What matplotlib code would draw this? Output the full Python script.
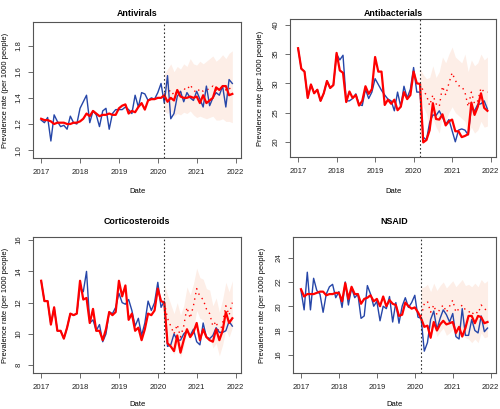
import matplotlib
matplotlib.use("Agg")
import matplotlib.pyplot as plt
import numpy as np

plt.rcParams['font.family'] = ['Liberation Sans', 'DejaVu Sans']

# monthly time axis, Jan 2017 - Dec 2021 (decimal years)
months = 2017 + np.arange(60) / 12.0
cf_months = months[38:]  # counterfactual from Mar 2020
break_date = 2020 + 2 / 12.0

# ---- Antivirals ----
av_obs = [1.23, 1.21, 1.25, 1.07, 1.27, 1.22, 1.18, 1.19, 1.16, 1.26, 1.21, 1.20,
          1.32, 1.37, 1.42, 1.21, 1.30, 1.27, 1.18, 1.30, 1.32, 1.16, 1.28, 1.31,
          1.31, 1.31, 1.33, 1.31, 1.28, 1.42, 1.33, 1.44, 1.43, 1.38, 1.40, 1.39,
          1.44, 1.51, 1.36, 1.57, 1.24, 1.28, 1.41, 1.45, 1.37, 1.44, 1.40, 1.38,
          1.45, 1.39, 1.33, 1.49, 1.34, 1.40, 1.44, 1.42, 1.49, 1.33, 1.54, 1.51]
av_fit = [1.24, 1.23, 1.23, 1.22, 1.20, 1.21, 1.21, 1.21, 1.20, 1.20, 1.21, 1.21,
          1.22, 1.24, 1.28, 1.26, 1.30, 1.28, 1.26, 1.27, 1.27, 1.28, 1.27, 1.27,
          1.32, 1.34, 1.35, 1.28, 1.30, 1.29, 1.33, 1.36, 1.31, 1.38, 1.39, 1.39,
          1.40, 1.40, 1.42, 1.37, 1.40, 1.38, 1.46, 1.41, 1.40, 1.40, 1.41, 1.40,
          1.41, 1.36, 1.42, 1.36, 1.38, 1.40, 1.48, 1.46, 1.49, 1.49, 1.42, 1.43]
av_cf = [1.43, 1.44, 1.46, 1.42, 1.45, 1.44, 1.47, 1.46, 1.50, 1.46, 1.44,
         1.47, 1.45, 1.46, 1.47, 1.49, 1.46, 1.47, 1.48, 1.46, 1.48, 1.44]
av_hi = [1.58, 1.62, 1.66, 1.60, 1.64, 1.62, 1.66, 1.64, 1.70, 1.66, 1.65,
         1.68, 1.66, 1.68, 1.70, 1.72, 1.68, 1.70, 1.73, 1.70, 1.74, 1.76]
av_lo = [1.30, 1.28, 1.30, 1.26, 1.28, 1.27, 1.29, 1.28, 1.30, 1.27, 1.25,
         1.26, 1.25, 1.24, 1.25, 1.26, 1.23, 1.23, 1.24, 1.22, 1.22, 1.21]

# ---- Antibacterials ----
ab_fit = [36.0, 32.5, 32.0, 27.5, 29.8, 28.3, 28.9, 27.0, 28.3, 30.4, 29.2, 29.7,
          35.2, 32.2, 31.8, 26.8, 28.6, 27.5, 28.0, 26.2, 27.0, 29.5, 28.2, 29.0,
          34.5, 32.0, 32.0, 26.3, 27.2, 26.5, 27.2, 25.4, 26.0, 28.5, 27.3, 28.0,
          32.0, 30.0, 29.9, 19.9, 20.3, 22.0, 26.6, 23.9, 23.8, 24.7, 22.8, 23.5,
          23.8, 21.8, 21.8, 20.8, 21.0, 21.3, 26.7, 24.6, 26.0, 28.3, 25.8, 25.3]
ab_obs = [36.0, 32.5, 32.0, 27.5, 29.8, 28.3, 28.9, 27.0, 28.3, 30.4, 29.2, 29.7,
          35.0, 34.0, 34.8, 27.0, 27.0, 27.4, 28.2, 26.4, 26.2, 29.0, 27.4, 28.5,
          30.8, 29.8, 28.8, 28.0, 27.3, 27.0, 25.3, 28.5, 26.0, 29.5, 27.5, 29.0,
          32.7, 28.5, 28.5, 20.8, 20.3, 23.3, 24.6, 24.5, 25.3, 24.2, 23.0, 23.8,
          21.9, 20.0, 22.0, 22.2, 22.0, 21.2, 25.8, 25.3, 26.4, 26.5, 27.0, 25.6]
ab_cf = [30.0, 28.7, 28.0, 26.2, 28.0, 26.5, 26.0, 29.5, 28.0, 30.0, 31.8,
         30.5, 29.6, 29.5, 28.5, 26.0, 28.5, 26.5, 27.0, 29.2, 28.5, 28.5]
ab_hi = [32.5, 31.5, 30.8, 31.0, 33.0, 31.0, 32.0, 34.5, 33.5, 35.0, 36.2,
         34.5, 34.0, 33.5, 35.0, 32.0, 34.0, 33.0, 33.5, 35.0, 34.0, 34.5]
ab_lo = [28.0, 26.0, 24.8, 22.5, 24.0, 22.5, 21.5, 24.5, 23.5, 25.0, 26.0,
         25.0, 24.5, 24.0, 23.5, 21.5, 22.5, 21.5, 22.0, 23.5, 22.5, 22.7]

# ---- Corticosteroids ----
cs_fit = [13.4, 12.1, 12.1, 10.6, 11.7, 10.2, 10.2, 9.7, 10.4, 11.3, 11.2, 11.3,
          13.4, 12.2, 12.3, 10.7, 11.6, 10.2, 10.2, 9.6, 10.3, 11.4, 11.2, 11.4,
          13.4, 12.4, 13.1, 10.9, 11.3, 10.2, 10.4, 9.6, 10.3, 11.3, 11.2, 11.5,
          12.9, 12.1, 12.0, 9.4, 9.2, 8.9, 9.9, 8.8, 9.6, 10.3, 9.8, 10.1,
          10.7, 9.6, 10.3, 9.8, 9.6, 9.5, 10.3, 9.6, 10.2, 11.4, 10.7, 11.0]
cs_obs = [13.4, 12.1, 12.1, 10.6, 11.7, 10.2, 10.2, 9.7, 10.4, 11.3, 11.2, 11.3,
          13.0, 12.7, 14.0, 10.7, 10.9, 10.2, 10.6, 9.5, 10.0, 11.4, 11.3, 11.7,
          12.6, 12.0, 11.9, 12.2, 11.5, 10.5, 11.0, 9.9, 10.7, 12.1, 11.5, 12.0,
          13.3, 11.7, 12.1, 9.2, 9.3, 10.0, 9.6, 9.6, 10.0, 10.2, 9.9, 10.3,
          9.5, 9.3, 10.7, 9.8, 9.7, 9.9, 10.4, 10.1, 10.1, 10.2, 10.8, 10.5]
cs_cf = [12.0, 11.0, 10.5, 10.0, 10.6, 9.8, 10.5, 11.7, 11.0, 11.8, 12.9,
         12.4, 12.2, 11.6, 11.3, 10.5, 10.8, 10.0, 10.7, 11.8, 11.2, 12.0]
cs_hi = [13.2, 12.5, 11.9, 11.3, 12.0, 11.2, 11.8, 13.0, 12.5, 13.2, 14.2,
         13.6, 13.5, 12.9, 12.8, 11.8, 12.3, 11.4, 12.2, 13.3, 12.7, 13.4]
cs_lo = [10.8, 9.8, 9.1, 8.7, 9.3, 8.5, 9.2, 10.3, 9.6, 10.3, 11.5,
         11.0, 10.9, 10.2, 9.9, 9.1, 9.4, 8.6, 9.3, 10.3, 9.8, 10.4]

# ---- NSAID ----
ns_obs = [21.3, 19.7, 22.8, 19.7, 22.3, 21.3, 21.0, 19.5, 21.0, 21.6, 21.8, 20.7,
          21.2, 19.9, 22.0, 20.1, 21.5, 20.7, 21.0, 19.0, 19.2, 21.7, 21.0, 20.0,
          20.4, 18.8, 20.0, 19.8, 20.8, 18.7, 20.3, 18.6, 20.0, 20.7, 19.9, 20.3,
          20.9, 19.1, 19.0, 16.3, 17.0, 18.9, 19.6, 18.1, 19.0, 19.7, 19.3, 18.7,
          19.4, 17.5, 17.3, 19.8, 17.6, 17.6, 18.9, 18.0, 17.8, 19.2, 17.9, 18.2]
ns_fit = [21.4, 20.8, 21.0, 21.0, 21.0, 21.1, 21.2, 21.2, 20.9, 21.0, 21.0, 21.1,
          21.1, 20.4, 21.9, 20.6, 21.6, 21.0, 21.0, 20.2, 20.6, 20.7, 20.9, 20.4,
          20.6, 20.0, 20.8, 20.0, 20.5, 20.2, 20.1, 19.2, 19.3, 20.3, 20.0, 19.8,
          19.9, 19.5, 19.0, 18.3, 18.4, 17.4, 18.7, 18.0, 18.5, 18.8, 18.5, 18.6,
          18.7, 17.8, 18.3, 17.5, 18.2, 19.2, 19.2, 18.6, 19.2, 19.1, 18.6, 18.7]
ns_cf = [19.2, 20.2, 20.4, 19.5, 20.1, 19.3, 19.8, 20.1, 19.5, 20.0, 20.5,
         19.5, 19.8, 20.1, 19.7, 19.6, 19.3, 19.6, 19.4, 20.1, 19.8, 19.6]
ns_hi = [21.5, 21.6, 21.8, 21.2, 21.9, 21.3, 21.7, 22.0, 21.5, 21.8, 22.1,
         21.6, 21.9, 22.2, 21.7, 21.8, 21.6, 21.9, 21.6, 22.2, 21.9, 22.1]
ns_lo = [17.6, 18.4, 18.7, 17.9, 18.4, 17.5, 17.9, 18.2, 17.6, 17.8, 18.1,
         17.3, 17.6, 17.9, 17.4, 17.3, 17.0, 17.3, 17.0, 17.8, 17.4, 17.5]

panels = [
    ("Antivirals", av_obs, av_fit, av_cf, av_hi, av_lo, (0.94, 1.98), [1.0, 1.2, 1.4, 1.6, 1.8], "%.1f"),
    ("Antibacterials", ab_obs, ab_fit, ab_cf, ab_hi, ab_lo, (17.4, 41.0), [20, 25, 30, 35, 40], "%d"),
    ("Corticosteroids", cs_obs, cs_fit, cs_cf, cs_hi, cs_lo, (7.5, 16.2), [8, 10, 12, 14, 16], "%d"),
    ("NSAID", ns_obs, ns_fit, ns_cf, ns_hi, ns_lo, (14.5, 25.7), [16, 18, 20, 22, 24], "%d"),
]

# axes boxes in pixels: left, top, right, bottom ; title / "Date" y and ylabel x in pixels
boxes = [(33, 22, 241, 158), (290, 19, 496, 157), (33, 237, 241, 373), (293, 237, 496, 373)]
title_y = [14, 14, 221, 221]
date_y = [192, 192, 404, 404]
ylab_x = [6, 261, 6, 263]
W, H = 500, 409

fig = plt.figure(figsize=(5, 4.09), dpi=100)
blue = "#2646a8"
red = "#ff0000"
ribbon = "#fdeee7"

for i, (title, obs, fit, cf, hi, lo, ylim, yt, fmt) in enumerate(panels):
    l, t, r, b = boxes[i]
    ax = fig.add_axes([l / W, 1 - b / H, (r - l) / W, (b - t) / H])
    ax.fill_between(cf_months, lo, hi, color=ribbon, lw=0, zorder=1)
    ax.plot(months, obs, color=blue, lw=1.0, zorder=3)
    ax.plot(months, fit, color=red, lw=1.6, zorder=4)
    ax.plot(cf_months, cf, color=red, lw=1.0, ls=(0, (1, 3)), zorder=2)
    ax.axvline(break_date, color="#333333", lw=0.8, ls=(0, (1.5, 2)), zorder=5)
    ax.set_xlim(2016.79, 2022.14)
    ax.set_ylim(*ylim)
    ax.set_xticks([2017, 2018, 2019, 2020, 2021, 2022])
    ax.set_yticks(yt)
    ax.set_yticklabels([fmt % v for v in yt], rotation=90, va="center")
    ax.tick_params(labelsize=5.6, length=3.5, width=0.6, color="#555555", labelcolor="#222222")
    ax.tick_params(axis="x", pad=4.5)
    ax.tick_params(axis="y", pad=4)
    for s in ax.spines.values():
        s.set_color("#555555")
        s.set_linewidth(0.8)
    fig.text((l + r) / 2 / W, 1 - title_y[i] / H, title, fontsize=6.4, fontweight="bold",
             ha="center", va="center")
    fig.text((l + r) / 2 / W, 1 - date_y[i] / H, "Date", fontsize=5.5,
             ha="center", va="center")
    fig.text(ylab_x[i] / W, 1 - (t + b) / 2 / H, "Prevalence rate (per 1000 people)",
             fontsize=5.4, rotation=90, ha="center", va="center")

fig.savefig("out.png", dpi=100)
